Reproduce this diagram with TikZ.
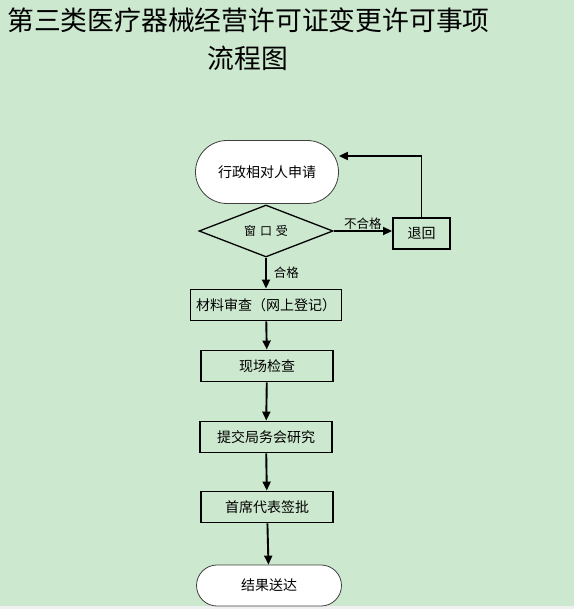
\documentclass[tikz,border=0pt]{standalone}
\usepackage{fontspec}
\setmainfont{Noto Sans CJK SC}
\usepackage{xcolor}
\usetikzlibrary{arrows.meta,positioning,shapes.geometric,shapes.misc}
\definecolor{bggreen}{HTML}{CCE8CF}
\definecolor{stripgrey}{HTML}{F0F0F0}

\begin{document}
\begin{tikzpicture}[x=1pt, y=-1pt, every node/.style={font=\fontsize{14}{16}\selectfont}, box/.style={draw, line width=1.9pt, minimum width=132pt, minimum height=31pt, inner sep=0pt}, term/.style={draw=black!75, line width=0.8pt, fill=white, rounded rectangle, minimum width=143pt, minimum height=63pt, inner sep=0pt}, arr/.style={line width=1.9pt, -{Triangle[length=9pt,width=8pt]}}, lbl/.style={font=\fontsize{12.5}{14}\selectfont, inner sep=1pt}]
\fill[bggreen] (0,0) rectangle (574,606);
\fill[stripgrey] (0,606) rectangle (574,609);
\useasboundingbox (0,0) rectangle (574,609);
% title
\node[font=\fontsize{26.8}{30}\selectfont, inner sep=0pt] (title1) at (248.5,20) {第三类医疗器械经营许可证变更许可事项};
\node[font=\fontsize{26.8}{30}\selectfont, inner sep=0pt] (title2) at (248,58) {流程图};
% flow
\node[term] (apply) at (267,172) {行政相对人申请};
\node[draw, diamond, line width=1.3pt, shape aspect=3, minimum width=134pt, minimum height=52pt, inner sep=0pt, font=\fontsize{12}{14}\selectfont] (window) at (266,231) {窗\hspace{4pt}口\hspace{4pt}受};
\node[box, minimum width=57pt] (back) at (421.5,233.5) {退回};
\node[box, minimum width=151pt] (check) at (266,305) {材料审查（网上登记）};
\node[box] (site) at (267,366) {现场检查};
\node[box] (meeting) at (266,437) {提交局务会研究};
\node[box] (sign) at (267,507) {首席代表签批};
\node[term, minimum width=145pt, minimum height=41pt] (deliver) at (269,585.5) {结果送达};
\draw[arr] (window.east) -- (window.east -| back.west) node[lbl, midway, above] (fail) {不合格};
\draw[arr] (back.north) |- ([yshift=16pt]apply.east);
\draw[arr] (window.south) -- (check.north) node[lbl, midway, right=6pt] (pass) {合格};
\draw[arr] (check) -- (site);
\draw[arr] (site) -- (meeting);
\draw[arr] (meeting) -- (sign);
\draw[arr] (sign) -- (deliver);
\end{tikzpicture}
\end{document}
